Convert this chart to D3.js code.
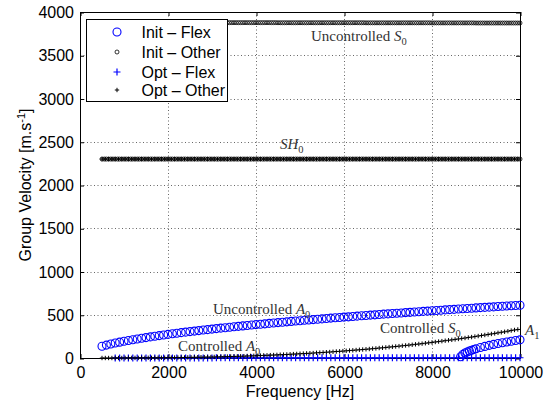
<!DOCTYPE html>
<html><head><meta charset="utf-8">
<script src="https://cdn.jsdelivr.net/npm/d3@7"></script>
<style>
html,body{margin:0;padding:0;background:#fff;}
svg{display:block;}
text{font-family:"Liberation Sans",Arial,Helvetica,sans-serif;}
.ann{font-family:"Liberation Serif","Times New Roman",serif;fill:#333;}
</style>
</head><body>
<script>
// ---------------- DATA ----------------
const xTicks = [0,2000,4000,6000,8000,10000];
const yTicks = [0,500,1000,1500,2000,2500,3000,3500,4000];
const seriesNames = ["Init \u2013 Flex","Init \u2013 Other","Opt \u2013 Flex","Opt \u2013 Other"];

// Init – Flex : uncontrolled A0 (100 Hz grid)
const freqFlex = [500,600,700,800,900,1000,1100,1200,1300,1400,1500,1600,1700,1800,1900,2000,2100,2200,2300,2400,2500,2600,2700,2800,2900,3000,3100,3200,3300,3400,3500,3600,3700,3800,3900,4000,4100,4200,4300,4400,4500,4600,4700,4800,4900,5000,5100,5200,5300,5400,5500,5600,5700,5800,5900,6000,6100,6200,6300,6400,6500,6600,6700,6800,6900,7000,7100,7200,7300,7400,7500,7600,7700,7800,7900,8000,8100,8200,8300,8400,8500,8600,8700,8800,8900,9000,9100,9200,9300,9400,9500,9600,9700,9800,9900,10000];
const initA0 = [136,149,161,173,183,193,202,211,220,228,236,244,252,259,266,273,280,286,293,299,305,311,317,323,328,334,340,345,350,356,361,366,371,376,381,386,391,395,400,405,409,414,418,423,427,431,436,440,444,448,452,456,461,465,469,473,476,480,484,488,492,496,499,503,507,510,514,518,521,525,528,532,535,539,542,546,549,552,556,559,562,566,569,572,575,579,582,585,588,591,595,598,601,604,607,610];
// Init – Flex : A1 mode near its cut-off
const freqA1 = [8650,8700,8750,8800,8850,8900,8950,9000,9100,9200,9300,9400,9500,9600,9700,9800,9900,10000];
const initA1 = [15,40,57,70,81,90,99,107,121,134,146,157,167,176,185,194,202,210];

// Init – Other : uncontrolled S0 and SH0 (50 Hz grid)
const freqInitOther = [500,550,600,650,700,750,800,850,900,950,1000,1050,1100,1150,1200,1250,1300,1350,1400,1450,1500,1550,1600,1650,1700,1750,1800,1850,1900,1950,2000,2050,2100,2150,2200,2250,2300,2350,2400,2450,2500,2550,2600,2650,2700,2750,2800,2850,2900,2950,3000,3050,3100,3150,3200,3250,3300,3350,3400,3450,3500,3550,3600,3650,3700,3750,3800,3850,3900,3950,4000,4050,4100,4150,4200,4250,4300,4350,4400,4450,4500,4550,4600,4650,4700,4750,4800,4850,4900,4950,5000,5050,5100,5150,5200,5250,5300,5350,5400,5450,5500,5550,5600,5650,5700,5750,5800,5850,5900,5950,6000,6050,6100,6150,6200,6250,6300,6350,6400,6450,6500,6550,6600,6650,6700,6750,6800,6850,6900,6950,7000,7050,7100,7150,7200,7250,7300,7350,7400,7450,7500,7550,7600,7650,7700,7750,7800,7850,7900,7950,8000,8050,8100,8150,8200,8250,8300,8350,8400,8450,8500,8550,8600,8650,8700,8750,8800,8850,8900,8950,9000,9050,9100,9150,9200,9250,9300,9350,9400,9450,9500,9550,9600,9650,9700,9750,9800,9850,9900,9950,10000];
const initS0 = [3878,3878,3878,3878,3878,3878,3878,3878,3878,3878,3878,3878,3878,3878,3878,3878,3878,3878,3878,3878,3878,3878,3878,3878,3878,3878,3878,3878,3878,3878,3878,3878,3878,3878,3878,3878,3878,3878,3878,3878,3877,3877,3877,3877,3877,3877,3877,3877,3877,3877,3877,3877,3877,3877,3877,3877,3877,3877,3877,3877,3877,3877,3877,3877,3877,3877,3877,3877,3877,3877,3877,3877,3877,3877,3877,3877,3877,3877,3877,3877,3876,3876,3876,3876,3876,3876,3876,3876,3876,3876,3876,3876,3876,3876,3876,3876,3876,3876,3876,3876,3876,3876,3876,3876,3876,3876,3876,3876,3876,3876,3876,3876,3876,3876,3876,3876,3876,3876,3876,3876,3875,3875,3875,3875,3875,3875,3875,3875,3875,3875,3875,3875,3875,3875,3875,3875,3875,3875,3875,3875,3875,3875,3875,3875,3875,3875,3875,3875,3875,3875,3874,3874,3874,3874,3874,3874,3874,3874,3874,3874,3874,3874,3874,3874,3874,3874,3874,3874,3874,3874,3873,3873,3873,3873,3873,3873,3873,3873,3873,3873,3873,3873,3873,3873,3873,3873,3873,3873,3873,3873,3873];
const initSH0 = [2300,2300,2300,2300,2300,2300,2300,2300,2300,2300,2300,2300,2300,2300,2300,2300,2300,2300,2300,2300,2300,2300,2300,2300,2300,2300,2300,2300,2300,2300,2300,2300,2300,2300,2300,2300,2300,2300,2300,2300,2300,2300,2300,2300,2300,2300,2300,2300,2300,2300,2300,2300,2300,2300,2300,2300,2300,2300,2300,2300,2300,2300,2300,2300,2300,2300,2300,2300,2300,2300,2300,2300,2300,2300,2300,2300,2300,2300,2300,2300,2300,2300,2300,2300,2300,2300,2300,2300,2300,2300,2300,2300,2300,2300,2300,2300,2300,2300,2300,2300,2300,2300,2300,2300,2300,2300,2300,2300,2300,2300,2300,2300,2300,2300,2300,2300,2300,2300,2300,2300,2300,2300,2300,2300,2300,2300,2300,2300,2300,2300,2300,2300,2300,2300,2300,2300,2300,2300,2300,2300,2300,2300,2300,2300,2300,2300,2300,2300,2300,2300,2300,2300,2300,2300,2300,2300,2300,2300,2300,2300,2300,2300,2300,2300,2300,2300,2300,2300,2300,2300,2300,2300,2300,2300,2300,2300,2300,2300,2300,2300,2300,2300,2300,2300,2300,2300,2300,2300,2300,2300,2300];

// Opt – Flex : controlled A0 (100 Hz grid from 800 Hz)
const freqOptFlex = [800,900,1000,1100,1200,1300,1400,1500,1600,1700,1800,1900,2000,2100,2200,2300,2400,2500,2600,2700,2800,2900,3000,3100,3200,3300,3400,3500,3600,3700,3800,3900,4000,4100,4200,4300,4400,4500,4600,4700,4800,4900,5000,5100,5200,5300,5400,5500,5600,5700,5800,5900,6000,6100,6200,6300,6400,6500,6600,6700,6800,6900,7000,7100,7200,7300,7400,7500,7600,7700,7800,7900,8000,8100,8200,8300,8400,8500,8600,8700,8800,8900,9000,9100,9200,9300,9400,9500,9600,9700,9800,9900,10000];
const optA0 = [1,1,1,1,1,1,1,1,1,1,1,1,1,1,1,1,1,1,1,1,1,1,1,2,2,2,2,2,2,2,2,2,2,2,2,2,2,2,2,2,2,2,2,2,2,2,2,2,2,2,2,2,2,2,2,2,2,2,2,2,2,2,2,3,3,3,3,3,3,3,3,3,3,3,3,3,3,3,3,3,3,3,3,3,3,3,3,3,3,3,3,3,3];

// Opt – Other : controlled S0 and SH0 (75 Hz grid)
const freqOptOther = [500,575,650,725,800,875,950,1025,1100,1175,1250,1325,1400,1475,1550,1625,1700,1775,1850,1925,2000,2075,2150,2225,2300,2375,2450,2525,2600,2675,2750,2825,2900,2975,3050,3125,3200,3275,3350,3425,3500,3575,3650,3725,3800,3875,3950,4025,4100,4175,4250,4325,4400,4475,4550,4625,4700,4775,4850,4925,5000,5075,5150,5225,5300,5375,5450,5525,5600,5675,5750,5825,5900,5975,6050,6125,6200,6275,6350,6425,6500,6575,6650,6725,6800,6875,6950,7025,7100,7175,7250,7325,7400,7475,7550,7625,7700,7775,7850,7925,8000,8075,8150,8225,8300,8375,8450,8525,8600,8675,8750,8825,8900,8975,9050,9125,9200,9275,9350,9425,9500,9575,9650,9725,9800,9875,9950];
const optS0 = [0,0,0,0,0,0,0,1,1,1,1,1,1,2,2,2,2,3,3,3,4,4,5,5,6,6,7,7,8,9,9,10,11,11,12,13,14,15,16,17,18,19,20,21,23,24,25,27,28,30,31,33,34,36,38,39,41,43,45,47,49,51,53,55,57,60,62,64,67,69,72,75,77,80,83,86,89,92,95,98,101,104,108,111,115,118,122,126,129,133,137,141,145,149,153,158,162,166,171,176,180,185,190,195,200,205,210,215,220,226,231,237,242,248,254,260,266,272,278,284,291,297,303,310,317,324,330];
const optSH0 = [2300,2300,2300,2300,2300,2300,2300,2300,2300,2300,2300,2300,2300,2300,2300,2300,2300,2300,2300,2300,2300,2300,2300,2300,2300,2300,2300,2300,2300,2300,2300,2300,2300,2300,2300,2300,2300,2300,2300,2300,2300,2300,2300,2300,2300,2300,2300,2300,2300,2300,2300,2300,2300,2300,2300,2300,2300,2300,2300,2300,2300,2300,2300,2300,2300,2300,2300,2300,2300,2300,2300,2300,2300,2300,2300,2300,2300,2300,2300,2300,2300,2300,2300,2300,2300,2300,2300,2300,2300,2300,2300,2300,2300,2300,2300,2300,2300,2300,2300,2300,2300,2300,2300,2300,2300,2300,2300,2300,2300,2300,2300,2300,2300,2300,2300,2300,2300,2300,2300,2300,2300,2300,2300,2300,2300,2300,2300];

// ---------------- CHART ----------------
const W = 551, H = 405;
const L = 80, R = 520, T = 12, B = 358;
const svg = d3.select("body").append("svg").attr("width", W).attr("height", H);
const x = d3.scaleLinear().domain([0, 10000]).range([L, R]);
const y = d3.scaleLinear().domain([0, 4000]).range([B, T]);
const BLUE = "#0000ff";

// grid
const grid = svg.append("g").attr("stroke", "#000").attr("stroke-width", 0.6).attr("stroke-dasharray", "1,2.5");
grid.selectAll("line.v").data(xTicks.slice(1, -1)).join("line")
  .attr("x1", d => Math.round(x(d)) + 0.5).attr("x2", d => Math.round(x(d)) + 0.5)
  .attr("y1", T).attr("y2", B);
grid.selectAll("line.h").data(yTicks.slice(1, -1)).join("line")
  .attr("y1", d => Math.round(y(d)) + 0.5).attr("y2", d => Math.round(y(d)) + 0.5)
  .attr("x1", L).attr("x2", R);

// axes (inward ticks, MATLAB style)
function styleAxis(g) {
  g.select(".domain").remove();
  g.selectAll(".tick line").attr("stroke", "#000");
  g.selectAll("text").attr("fill", "#000").style("font-size", "16px")
    .style("font-family", '"Liberation Sans",Arial,sans-serif');
}
svg.append("g").attr("transform", `translate(0.5,${B})`)
  .call(d3.axisBottom(x).tickValues(xTicks).tickSize(-4).tickPadding(9).tickFormat(d3.format("d")))
  .call(styleAxis);
svg.append("g").attr("transform", `translate(0.5,${T})`)
  .call(d3.axisTop(x).tickValues(xTicks).tickSize(-4).tickFormat(""))
  .call(styleAxis);
svg.append("g").attr("transform", `translate(${L},0.5)`)
  .call(d3.axisLeft(y).tickValues(yTicks).tickSize(-4).tickPadding(6).tickFormat(d3.format("d")))
  .call(styleAxis);
svg.append("g").attr("transform", `translate(${R},0.5)`)
  .call(d3.axisRight(y).tickValues(yTicks).tickSize(-4).tickFormat(""))
  .call(styleAxis);

// box
svg.append("rect").attr("x", L + 0.5).attr("y", T + 0.5).attr("width", R - L).attr("height", B - T)
  .attr("fill", "none").attr("stroke", "#000").attr("stroke-width", 1);

// markers
const plusPath = s => `M${-s},0H${s}M0,${-s}V${s}`;
function circles(freqs, vals, r, color, sw) {
  svg.append("g").selectAll("circle").data(freqs.map((f, i) => [f, vals[i]])).join("circle")
    .attr("cx", d => x(d[0])).attr("cy", d => y(d[1])).attr("r", r)
    .attr("fill", "none").attr("stroke", color).attr("stroke-width", sw);
}
function pluses(freqs, vals, s, color, sw) {
  svg.append("g").selectAll("path").data(freqs.map((f, i) => [f, vals[i]])).join("path")
    .attr("transform", d => `translate(${x(d[0])},${y(d[1])})`).attr("d", plusPath(s))
    .attr("fill", "none").attr("stroke", color).attr("stroke-width", sw);
}
circles(freqFlex, initA0, 4, BLUE, 1.1);
circles(freqA1, initA1, 4, BLUE, 1.1);
circles(freqInitOther, initS0, 2, "#000", 0.8);
circles(freqInitOther, initSH0, 2, "#000", 0.8);
pluses(freqOptFlex, optA0, 3.5, BLUE, 1.2);
pluses(freqOptOther, optS0, 2.2, "#000", 1);
pluses(freqOptOther, optSH0, 2.2, "#000", 1);

// annotations
function ann(px, py, main, ital, sub) {
  const t = svg.append("text").attr("class", "ann").attr("x", px).attr("y", py).style("font-size", "15px");
  if (main) t.append("tspan").text(main);
  t.append("tspan").style("font-style", "italic").text(ital);
  t.append("tspan").attr("dy", 3.5).style("font-size", "10.5px").text(sub);
}
ann(311, 41, "Uncontrolled ", "S", "0");
ann(280, 149, "", "SH", "0");
ann(213, 314, "Uncontrolled ", "A", "0");
ann(178, 351, "Controlled ", "A", "0");
ann(380, 333, "Controlled ", "S", "0");
ann(525, 335, "", "A", "1");

// axis labels
svg.append("text").attr("x", (L + R) / 2).attr("y", 397).attr("text-anchor", "middle")
  .style("font-size", "16px").text("Frequency [Hz]");
const yl = svg.append("text").attr("transform", "translate(31,185) rotate(-90)")
  .attr("text-anchor", "middle").style("font-size", "16px");
yl.append("tspan").text("Group Velocity [m.s");
yl.append("tspan").attr("dy", -6).style("font-size", "11px").text("-1");
yl.append("tspan").attr("dy", 6).text("]");

// legend
const lg = svg.append("g");
lg.append("rect").attr("x", 86.5).attr("y", 19.5).attr("width", 141).attr("height", 82)
  .attr("fill", "#fff").attr("stroke", "#000").attr("stroke-width", 1);
const rowsY = [32, 52, 72, 90];
const mx = 117;
lg.append("circle").attr("cx", mx).attr("cy", rowsY[0]).attr("r", 4).attr("fill", "none").attr("stroke", BLUE).attr("stroke-width", 1.1);
lg.append("circle").attr("cx", mx).attr("cy", rowsY[1]).attr("r", 2).attr("fill", "none").attr("stroke", "#000").attr("stroke-width", 0.8);
lg.append("path").attr("transform", `translate(${mx},${rowsY[2]})`).attr("d", plusPath(3.5)).attr("stroke", BLUE).attr("stroke-width", 1.2);
lg.append("path").attr("transform", `translate(${mx},${rowsY[3]})`).attr("d", plusPath(2.2)).attr("stroke", "#000").attr("stroke-width", 1);
lg.selectAll("text").data(seriesNames).join("text")
  .attr("x", 141.5).attr("y", (d, i) => rowsY[i]).attr("dy", "0.36em")
  .style("font-size", "16px").text(d => d);
</script>
</body></html>
